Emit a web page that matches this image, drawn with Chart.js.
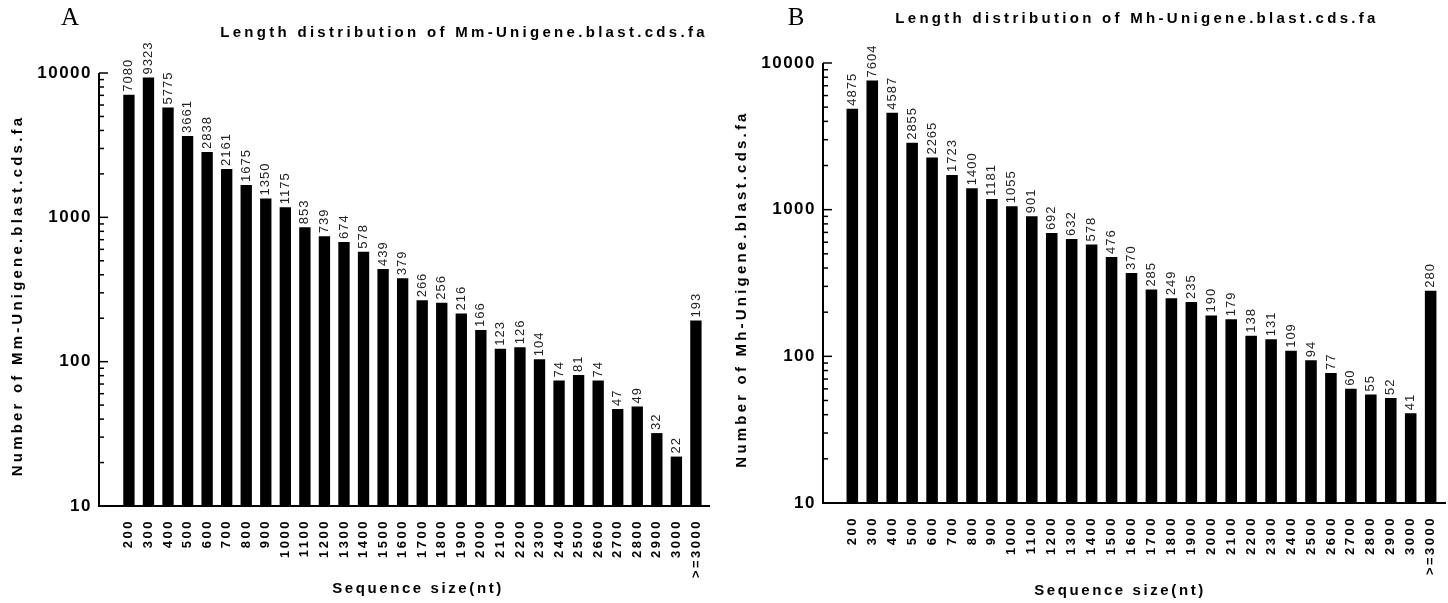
<!DOCTYPE html>
<html>
<head>
<meta charset="utf-8">
<script src="https://cdn.jsdelivr.net/npm/chart.js@4"></script>
<style>
    html, body { margin: 0; padding: 0; background: #fff; }
    #wrap { position: relative; width: 1448px; height: 603px; }
    #wrap canvas { position: absolute; top: 0; }
</style>
</head>
<body>
<div id="wrap">
    <canvas id="chart_a" width="724" height="603" style="left:0"></canvas>
    <canvas id="chart_b" width="724" height="603" style="left:724px"></canvas>
</div>
<script>
// Length bins (nt).
const size_labels = [
    "200", "300", "400", "500", "600", "700", "800", "900", "1000", "1100",
    "1200", "1300", "1400", "1500", "1600", "1700", "1800", "1900", "2000", "2100",
    "2200", "2300", "2400", "2500", "2600", "2700", "2800", "2900", "3000", ">=3000",
];

// Number of sequences in each bin.
const mm_counts = [
    7080, 9323, 5775, 3661, 2838, 2161, 1675, 1350, 1175, 853,
    739, 674, 578, 439, 379, 266, 256, 216, 166, 123,
    126, 104, 74, 81, 74, 47, 49, 32, 22, 193,
];
const mh_counts = [
    4875, 7604, 4587, 2855, 2265, 1723, 1400, 1181, 1055, 901,
    692, 632, 578, 476, 370, 285, 249, 235, 190, 179,
    138, 131, 109, 94, 77, 60, 55, 52, 41, 280,
];

// Labelled y ticks (log axis).
const y_major = [10, 100, 1000, 10000];

// Draw a piece of text with letter spacing, optionally rotated.
function draw_text(ctx, text, x, y, font, spacing, align, baseline, angle, color) {
    ctx.save();
    ctx.translate(x, y);
    if (angle) ctx.rotate(angle);
    ctx.font = font;
    ctx.letterSpacing = spacing + "px";
    ctx.textAlign = align;
    ctx.textBaseline = baseline;
    ctx.fillStyle = color || "#000";
    ctx.fillText(text, 0, 0);
    ctx.restore();
}

// Axes, ticks, value labels and titles.
const axes_plugin = {
    id: "axes_plugin",
    afterDatasetsDraw(chart, args, opts) {
        const ctx = chart.ctx;
        const { left, right, top, bottom } = chart.chartArea;
        const xs = chart.scales.x;
        const ys = chart.scales.y;
        const up = -Math.PI / 2;

        ctx.save();
        ctx.strokeStyle = "#000";
        ctx.lineWidth = 2;
        ctx.beginPath();
        ctx.moveTo(left, top);
        ctx.lineTo(left, bottom);
        ctx.lineTo(right, bottom);
        ctx.stroke();

        // Major and minor ticks point into the plot.
        ctx.lineWidth = 1.5;
        y_major.forEach((v, i) => {
            const py = ys.getPixelForValue(v);
            ctx.beginPath();
            ctx.moveTo(left, py);
            ctx.lineTo(left + 9, py);
            ctx.stroke();
            if (i < y_major.length - 1) {
                for (let k = 2; k <= 9; k++) {
                    const my = ys.getPixelForValue(v * k);
                    ctx.beginPath();
                    ctx.moveTo(left, my);
                    ctx.lineTo(left + 5, my);
                    ctx.stroke();
                }
            }
        });
        ctx.restore();

        y_major.forEach((v) => {
            draw_text(ctx, String(v), left - 7, ys.getPixelForValue(v),
                "bold 17px 'Liberation Sans', Arial", 1.5, "right", "middle");
        });

        // Category labels under the axis.
        size_labels.forEach((label, i) => {
            draw_text(ctx, label, xs.getPixelForValue(i), bottom + 13,
                "bold 13px 'Liberation Sans', Arial", 2.5, "right", "middle", up);
        });

        // Values above each bar.
        const meta = chart.getDatasetMeta(0);
        meta.data.forEach((bar, i) => {
            const value = chart.data.datasets[0].data[i].y;
            draw_text(ctx, String(value), bar.x, bar.y - 3,
                "13px 'Liberation Sans', Arial", 1, "left", "middle", up, "#222");
        });

        draw_text(ctx, "Sequence size(nt)", opts.x_title_x, opts.x_title_y,
            "bold 15px 'Liberation Sans', Arial", 2.6, "center", "middle");
        draw_text(ctx, opts.y_title, 18, (top + bottom) / 2 + 6,
            "bold 15px 'Liberation Sans', Arial", 3.2, "center", "middle", up);
        draw_text(ctx, opts.title, opts.title_x, opts.title_y,
            "bold 15px 'Liberation Sans', Arial", 3.3, "center", "middle");
        draw_text(ctx, opts.panel, opts.panel_x, 18,
            "25px 'Liberation Serif', 'Times New Roman', serif", 0, "center", "middle");
    },
};

function make_chart(id, counts, setup) {
    return new Chart(document.getElementById(id), {
        type: "bar",
        data: {
            datasets: [{
                data: counts.map((v, i) => ({ x: i, y: v })),
                backgroundColor: "#000",
                borderWidth: 0,
                barPercentage: 0.58,
                categoryPercentage: 1,
            }],
        },
        options: {
            responsive: false,
            animation: false,
            layout: { padding: setup.padding },
            plugins: {
                legend: { display: false },
                tooltip: { enabled: false },
                axes_plugin: setup.text,
            },
            scales: {
                x: { type: "linear", display: false, offset: false, min: setup.x_min, max: setup.x_max },
                y: { type: "logarithmic", display: false, min: 10, max: 10000 },
            },
        },
        plugins: [axes_plugin],
    });
}

make_chart("chart_a", mm_counts, {
    padding: { left: 99, right: 14, top: 73, bottom: 97 },
    x_min: -1.53,
    x_max: 29.72,
    text: {
        panel: "A",
        panel_x: 70,
        title: "Length distribution of Mm-Unigene.blast.cds.fa",
        title_x: 464,
        title_y: 33,
        y_title: "Number of Mm-Unigene.blast.cds.fa",
        x_title_x: 418,
        x_title_y: 589,
    },
});

make_chart("chart_b", mh_counts, {
    padding: { left: 99, right: 2, top: 63, bottom: 100 },
    x_min: -1.47,
    x_max: 29.77,
    text: {
        panel: "B",
        panel_x: 72,
        title: "Length distribution of Mh-Unigene.blast.cds.fa",
        title_x: 413,
        title_y: 19,
        y_title: "Number of Mh-Unigene.blast.cds.fa",
        x_title_x: 396,
        x_title_y: 591,
    },
});
</script>
</body>
</html>
